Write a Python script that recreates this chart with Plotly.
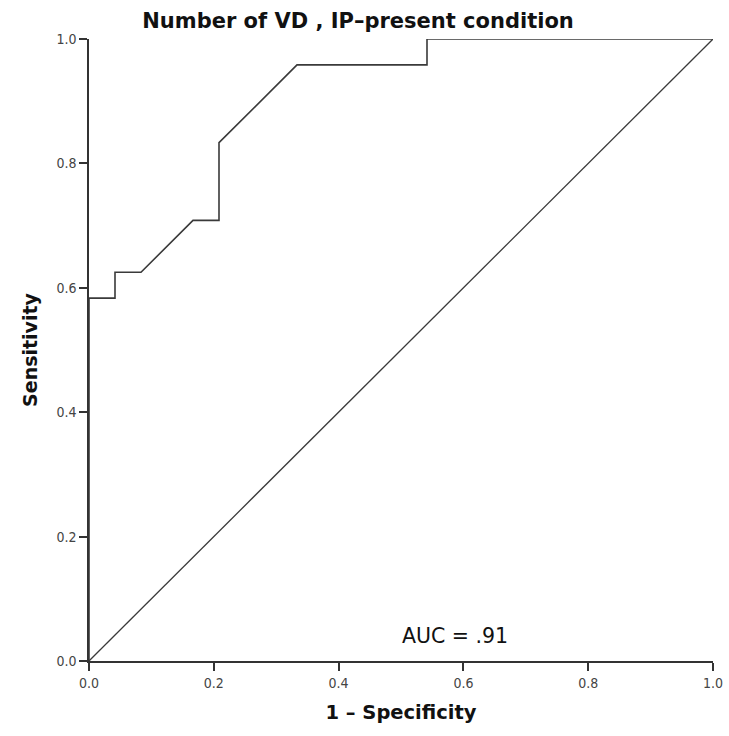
import plotly.graph_objects as go

# ROC curve points (1 - specificity, sensitivity)
fpr = [0.0, 0.0, 1/24, 1/24, 2/24, 4/24, 5/24, 5/24, 8/24, 13/24, 13/24, 1.0]
tpr = [0.0, 14/24, 14/24, 15/24, 15/24, 17/24, 17/24, 20/24, 23/24, 23/24, 1.0, 1.0]
ref_x = [0.0, 1.0]
ref_y = [0.0, 1.0]
tick_vals = [0.0, 0.2, 0.4, 0.6, 0.8, 1.0]
tick_text = ["0.0", "0.2", "0.4", "0.6", "0.8", "1.0"]
auc_label = "AUC = .91"

FONT = "DejaVu Sans, Verdana, sans-serif"
TICKFONT = "DejaVu Sans Condensed, DejaVu Sans, sans-serif"

fig = go.Figure()
fig.add_trace(go.Scatter(x=ref_x, y=ref_y, mode="lines",
                         line=dict(color="#3a3a3a", width=1.3), showlegend=False))
fig.add_trace(go.Scatter(x=fpr, y=tpr, mode="lines",
                         line=dict(color="#3a3a3a", width=1.6), showlegend=False))

fig.add_annotation(x=0.587, y=0.04, text=auc_label, showarrow=False,
                   font=dict(family=FONT, size=20.5, color="#111"),
                   xanchor="center", yanchor="middle")

axis_font = dict(family=TICKFONT, size=14, color="#444")
fig.update_layout(
    width=729, height=736,
    margin=dict(l=89, r=16, t=39, b=75, autoexpand=False),
    paper_bgcolor="white", plot_bgcolor="white",
    title=dict(text="<b>Number of VD , IP\u2013present condition</b>",
               x=358 / 729, xref="container", xanchor="center",
               y=1 - 21 / 736, yref="container", yanchor="middle",
               font=dict(family=FONT, size=21, color="#111")),
    xaxis=dict(range=[0, 1], tickvals=tick_vals, ticktext=tick_text, automargin=False,
               showgrid=False, zeroline=False, showline=True, linecolor="#333", linewidth=1.5,
               ticks="outside", ticklen=8, tickwidth=1.5, tickcolor="#333",
               tickfont=axis_font,
               title=dict(text="<b>1 \u2013 Specificity</b>", standoff=16,
                          font=dict(family=FONT, size=19.5, color="#111"))),
    yaxis=dict(range=[0, 1], tickvals=tick_vals, ticktext=tick_text, automargin=False,
               showgrid=False, zeroline=False, showline=True, linecolor="#333", linewidth=1.5,
               ticks="outside", ticklen=8, tickwidth=1.5, tickcolor="#333",
               tickfont=axis_font,
               title=dict(text="<b>Sensitivity</b>", standoff=14,
                          font=dict(family=FONT, size=19, color="#111"))),
)

fig.write_html("out.html", config={"displayModeBar": False},
               post_script="document.body.style.margin='0';document.body.style.overflow='hidden';")
